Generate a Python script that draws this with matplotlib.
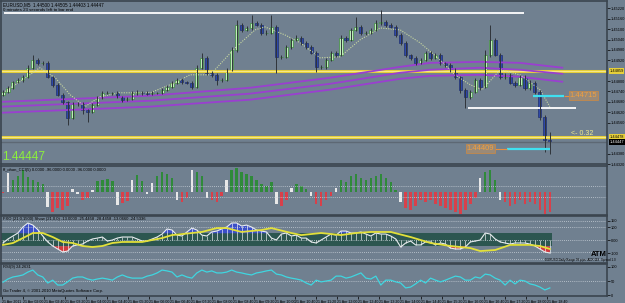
import numpy as np
import matplotlib
matplotlib.use("Agg")
import matplotlib.pyplot as plt

W, H = 625, 303
BG = "#708090"
EDGE = "#3a444e"

# ---- price data (EURUSD M5), one candle per entry ----
first_open = 1.44721
closes = [1.44738, 1.44761, 1.44796, 1.44807, 1.44825, 1.44877, 1.44923, 1.44905, 1.44905, 1.44825,
          1.44778, 1.44721, 1.44680, 1.44588, 1.44669, 1.44669, 1.44634, 1.44623, 1.44663, 1.44703,
          1.44732, 1.44732, 1.44732, 1.44709, 1.44692, 1.44698, 1.44732, 1.44738, 1.44732, 1.44727,
          1.44732, 1.44732, 1.44750, 1.44767, 1.44790, 1.44807, 1.44796, 1.44790, 1.44767, 1.44877,
          1.44934, 1.44848, 1.44836, 1.44807, 1.44807, 1.44865, 1.44980, 1.45125, 1.45096, 1.45107,
          1.45136, 1.45125, 1.45079, 1.45079, 1.45113, 1.44940, 1.44940, 1.44998, 1.45038, 1.45050,
          1.45021, 1.44998, 1.44963, 1.44882, 1.44882, 1.44923, 1.44963, 1.44952, 1.45050, 1.45038,
          1.45096, 1.45113, 1.45079, 1.45079, 1.45096, 1.45136, 1.45142, 1.45125, 1.45113, 1.45067,
          1.45021, 1.44952, 1.44934, 1.44905, 1.44923, 1.44963, 1.44934, 1.44952, 1.44905, 1.44894,
          1.44865, 1.44825, 1.44750, 1.44709, 1.44738, 1.44807, 1.44767, 1.44952, 1.45038, 1.44952,
          1.44825, 1.44836, 1.44790, 1.44778, 1.44825, 1.44761, 1.44790, 1.44738, 1.44594, 1.44461,
          1.44447]
# wick lengths in points (0.00001)
upper_wick = [8, 10, 6, 12, 9, 15, 29, 10, 12, 8, 6, 9, 10, 7, 12, 8, 10, 6, 9, 12,
              8, 10, 7, 9, 6, 12, 8, 10, 7, 9, 8, 6, 10, 9, 12, 8, 10, 7, 9, 15,
              29, 10, 8, 9, 12, 10, 15, 28, 12, 10, 46, 12, 10, 15, 69, 10, 9, 12, 10, 15,
              10, 8, 9, 10, 12, 8, 10, 9, 15, 12, 10, 60, 10, 9, 12, 15, 69, 12, 10, 9,
              8, 10, 7, 9, 12, 10, 8, 9, 10, 7, 9, 8, 6, 10, 12, 9, 10, 25, 87, 12,
              8, 10, 9, 12, 10, 8, 15, 10, 8, 9, 44]
lower_wick = [10, 8, 9, 7, 10, 8, 9, 12, 10, 8, 12, 10, 15, 40, 10, 12, 25, 58, 9, 10,
              8, 9, 12, 10, 15, 9, 8, 10, 12, 9, 10, 8, 9, 10, 7, 9, 12, 10, 15, 9,
              10, 12, 15, 29, 10, 9, 8, 10, 12, 9, 10, 8, 12, 10, 9, 92, 15, 9, 10, 8,
              12, 10, 9, 29, 12, 10, 9, 12, 8, 10, 9, 8, 12, 10, 9, 8, 10, 12, 9, 10,
              12, 15, 10, 12, 9, 10, 12, 9, 15, 10, 12, 15, 20, 63, 12, 10, 20, 9, 12, 10,
              15, 12, 10, 12, 9, 15, 10, 12, 20, 69, 67]

# horizontal levels
yellow_levels = [1.44859, 1.44478]
white_top = 1.45194
white_low = 1.44646
cyan_hi = 1.44715
cyan_lo = 1.44409
bid = 1.44447

# envelope (purple) sparse points
env_idx = [0, 29.6, 49.7, 65.8, 79.9, 85.9, 96.0, 104.0, 112.5]
env_up = [1.44680, 1.44715, 1.44761, 1.44819, 1.44882, 1.44905, 1.44911, 1.44905, 1.44877]
env_mid = [1.44652, 1.44686, 1.44727, 1.44784, 1.44848, 1.44865, 1.44877, 1.44865, 1.44842]
env_lo = [1.44617, 1.44652, 1.44692, 1.44750, 1.44813, 1.44830, 1.44836, 1.44825, 1.44796]

# dotted moving line
ma_idx = [0, 3.4, 7.4, 10.5, 13.5, 16.5, 19.5, 23.5, 29.6, 34.6, 37.6, 41.7, 46.7, 50.7, 52.7, 56.7,
          59.8, 63.8, 67.8, 71.8, 75.9, 79.9, 83.9, 87.9, 90.9, 94.0, 96.4, 100.0, 104.0, 108.0, 110.0]
ma_px = [1.44732, 1.44796, 1.44877, 1.44819, 1.44721, 1.44652, 1.44709, 1.44732, 1.44732, 1.44790,
         1.44836, 1.44836, 1.44992, 1.45096, 1.45113, 1.45067, 1.45021, 1.44934, 1.44940, 1.45038,
         1.45107, 1.45096, 1.45021, 1.44923, 1.44836, 1.44778, 1.44750, 1.44865, 1.44836, 1.44750,
         1.44652]

# ---- indicator 1: CCI histogram ----
cci = [-5, 95, 60, 80, 110, 75, 60, 50, 40, -75, -100, -80, -90, -70, 15, -10, -40, -30, 10, 55,
       60, 65, 55, -65, -55, -45, 60, 85, 55, -10, 45, 80, 100, 90, 70, -40, -50, -30, 110, 100,
       80, -30, -40, -50, -20, 60, 110, 120, 100, 90, 80, 60, 40, 30, 50, -60, -70, -40, 20, 40,
       30, 15, -20, -60, -70, -40, -20, 20, 60, 50, 80, 90, 70, 60, 70, 80, 90, 70, 50, 10,
       -50, -80, -90, -70, -40, -50, -40, -60, -70, -80, -90, -100, -110, -90, -60, -30, 70, 100, 110, 60,
       -40, -50, -70, -60, -40, -60, -50, -60, -90, -110, -100]

# ---- indicator 2: oscillator + signal ----
osc = [-23, 8, 31, 54, 100, 131, 115, 80, 31, -15, -46, -69, -92, -85, -46, -38, -31, -8, 8, 15,
       23, -8, 0, 15, 23, 23, 23, 8, -8, -8, 8, 23, 46, 85, 77, 38, 31, 62, 92, 77,
       38, 31, 62, 69, 85, 100, 131, 131, 108, 115, 100, 77, 69, 62, 15, 0, 46, 54, 31, 38,
       15, 15, -15, -23, 0, 23, 46, 38, 69, 69, 54, 54, 62, 46, 31, 54, 46, 46, 31, 8,
       -54, -23, -8, -38, -38, -15, -15, -38, -23, -31, -62, -69, -69, -54, -15, -8, 0, 54, 46, 8,
       -15, -23, -31, -23, -23, -23, -31, -46, -69, -92, -100]
sig_idx = [0, 2, 4, 6, 8, 10, 12, 14, 16, 18, 20, 22, 24, 28, 30, 32, 34, 36, 38, 40, 43, 45, 48,
           52, 54, 58, 60, 64, 68, 71, 74, 78, 82, 86, 90, 94, 96, 99, 102, 106, 108, 110]
sig_val = [-38, -23, 15, 54, 54, 23, -15, -23, -46, -54, -46, -23, -15, -15, 0, 15, 38, 46, 54, 62,
           92, 92, 62, 77, 92, 54, 38, 54, 38, 54, 62, 62, 23, -23, -46, -62, -85, -77, -38, -38,
           -46, -69]

# ---- indicator 3: RSI(9) ----
rsi = [46, 57, 64, 67, 71, 81, 88, 71, 64, 43, 53, 36, 36, 47, 60, 64, 64, 57, 53, 57,
       60, 57, 53, 64, 71, 64, 60, 60, 60, 67, 71, 78, 88, 85, 81, 64, 71, 64, 60, 78,
       88, 81, 85, 78, 78, 81, 88, 81, 78, 74, 71, 78, 81, 85, 88, 74, 71, 64, 60, 57,
       53, 43, 36, 53, 47, 50, 53, 67, 67, 60, 64, 71, 78, 60, 57, 67, 36, 53, 53, 47,
       43, 26, 29, 40, 53, 43, 60, 53, 47, 53, 60, 67, 64, 53, 53, 64, 60, 74, 71, 60,
       53, 36, 53, 40, 53, 50, 40, 36, 29, 19, 26]

time_labels = ["21 Apr 2011", "21 Apr 02:00", "21 Apr 02:40", "21 Apr 03:20", "21 Apr 04:00",
               "21 Apr 04:40", "21 Apr 05:20", "21 Apr 06:00", "21 Apr 06:40", "21 Apr 07:20",
               "21 Apr 08:00", "21 Apr 08:40", "21 Apr 09:20", "21 Apr 10:00", "21 Apr 10:40",
               "21 Apr 11:20", "21 Apr 12:00", "21 Apr 12:40", "21 Apr 13:20", "21 Apr 14:00",
               "21 Apr 14:40", "21 Apr 15:20", "21 Apr 16:00", "21 Apr 16:40", "21 Apr 17:20",
               "21 Apr 18:00", "21 Apr 18:40"]

plt.rcParams['font.family'] = ['Liberation Sans', 'DejaVu Sans']

fig = plt.figure(figsize=(W / 100, H / 100), dpi=100)
fig.patch.set_facecolor(BG)


def panel(y0, y1):
    a = fig.add_axes([1 / W, 1 - y1 / H, 606 / W, (y1 - y0) / H])
    a.set_facecolor(BG)
    for s in a.spines.values():
        s.set_color(EDGE)
        s.set_linewidth(1.2)
    a.set_xlim(-0.4, 121.5)
    a.yaxis.tick_right()
    a.tick_params(axis='y', labelsize=2.8, length=2, width=0.5, pad=1, colors='black')
    a.tick_params(axis='x', bottom=False, labelbottom=False)
    return a


def ftext(x, y, s, **kw):
    fig.text(x / W, 1 - y / H, s, **kw)


n = len(closes)
idx = np.arange(n)
c = np.array(closes)
o = np.r_[first_open, c[:-1]]
hi = np.maximum(o, c) + np.array(upper_wick) * 1e-5
lo = np.minimum(o, c) - np.array(lower_wick) * 1e-5
bull = c >= o

# ---- main price panel ----
ax = panel(1, 164)
ax.set_ylim(1.44323, 1.45263)
boxed = yellow_levels + [bid]
ticks = [t for t in np.arange(1.44320, 1.45260, 0.0006)
         if min(abs(t - b) for b in boxed) > 0.00028]
ax.set_yticks(ticks)
ax.set_yticklabels([f"{t:.5f}" for t in ticks])

ax.axhline(bid, color="#5d6874", lw=1)
ax.hlines(white_top, 0.2, 104.8, color="white", lw=1.3)
ax.hlines(white_low, 93.6, 115.3, color="white", lw=1.3)
for lvl in yellow_levels:
    ax.axhline(lvl, color="#e6cf3a", lw=2.2)
    ax.axhline(lvl, color="#f6ec9a", lw=0.6)

for ys in (env_up, env_mid, env_lo):
    ax.plot(env_idx, ys, color="#9a3fd0", lw=1.3)

ax.plot(ma_idx, ma_px, color="#c9d9a0", lw=0.8, ls=(0, (1, 1.2)))

ax.vlines(idx, lo, hi, color="#2f343a", lw=0.7)
body_b = np.minimum(o, c)
body_h = np.maximum(np.abs(c - o), 0.000015)
ax.bar(idx[bull], body_h[bull], bottom=body_b[bull], width=0.62,
       color="#bfeebb", edgecolor="#3d8a3d", lw=0.5)
ax.bar(idx[~bull], body_h[~bull], bottom=body_b[~bull], width=0.62,
       color="#2f49a8", edgecolor="#1f2f70", lw=0.5)

ax.hlines(cyan_hi, 106.7, 112.8, color="#3fe0f0", lw=1.6)
ax.hlines(cyan_hi, 112.8, 113.8, color="#e89040", lw=0.8)
ax.hlines(cyan_lo, 101.4, 110.0, color="#3fe0f0", lw=1.6)
ax.hlines(cyan_lo, 99.0, 101.4, color="#e89040", lw=0.8)

lbl = dict(fontsize=5.5, color="#f0a040", va="center",
           bbox=dict(boxstyle="square,pad=0.15", fc="#9a8a78", ec="#d08a40", lw=0.5))
ax.text(114.0, cyan_hi, "1.44715", ha="left", **lbl)
ax.text(98.8, cyan_lo, "1.44409", ha="right", **lbl)
ax.text(114.2, 1.44498, "<- 0.32", fontsize=5, color="#f2ec8a", va="center")

ybox = dict(fontsize=2.8, va="center", ha="left", transform=ax.get_yaxis_transform())
for lvl in yellow_levels:
    ax.text(1.004, lvl, f"{lvl:.5f}", color="black",
            bbox=dict(boxstyle="square,pad=0.2", fc="#e6cf3a", ec="none"), **ybox)
ax.text(1.004, bid, f"{bid:.5f}", color="white",
        bbox=dict(boxstyle="square,pad=0.2", fc="black", ec="none"), **ybox)

ftext(3, 5, "EURUSD,M5  1.44500 1.44505 1.44403 1.44447", fontsize=3.3, va="center")
ftext(3, 10, "0 minutes 23 seconds left to bar end", fontsize=3.2, va="center")
ftext(2, 157, "1.44447", fontsize=8.5, color="#8cf03c", va="center")

# ---- CCI histogram ----
ax2 = panel(166, 215)
ax2.set_ylim(-115, 130)
ax2.set_yticks([])
cv = np.array(cci)
sg = np.sign(cv)
flip = np.r_[False, sg[1:] != sg[:-1]]
cols = np.where(flip, "#e8e8e8", np.where(cv > 0, "#2f8a3a", "#d8404a"))
ax2.bar(idx, cv, width=0.5, color=cols, lw=0)
for lv in (30, -25):
    ax2.axhline(lv, color="#c8d0d8", lw=0.6, ls=(0, (1, 1.5)))
ftext(3, 170, "ff_ohon_CCI(5) 0.0000 -96.0000 0.0000 -96.0000 0.0000", fontsize=3, va="center")

# ---- oscillator panel ----
ax3 = panel(216, 263)
ax3.set_ylim(-177, 185)
ax3.set_yticks([150, 100, 0, -100])
ax3.set_yticklabels(["150", "100", "0.00", "-100"])
for lv in (150, 100, 0, -92, -150):
    ax3.axhline(lv, color="#c8d0d8", lw=0.6, ls=(0, (1, 1.5)))
ax3.add_patch(plt.Rectangle((-0.4, -48), 110.8, 100, color="#2c5650", lw=0))
ov = np.array(osc, dtype=float)
ax3.fill_between(idx, ov, 52, where=ov > 52, color="#3b4fc8", interpolate=True, lw=0)
ax3.fill_between(idx, ov, -48, where=ov < -48, color="#d03a40", interpolate=True, lw=0)
ax3.vlines(idx, 0, ov, color="white", lw=0.5, alpha=0.85)
ax3.plot(idx, ov, color="#e8ecef", lw=0.8)
ax3.plot(sig_idx, sig_val, color="#e2e03a", lw=1.3)
ftext(3, 219, "FXO (21,0,1500) Show (21,0,0) -13.0000 -25.4458 -28.4458 -13.0660 -24.5336",
      fontsize=3, va="center")
ftext(591, 255, "ATM", fontsize=5.5, fontweight="bold", va="center")
ftext(545, 260, "EURUSD Daily Range 99 pips  ADR 118  Spread 1.0", fontsize=2.2, va="center")

# ---- RSI panel ----
ax4 = panel(264, 296)
ax4.set_ylim(-2, 109)
ax4.set_yticks([100, 50, 0])
ax4.axhline(50, color="#c8d0d8", lw=0.6, ls=(0, (1, 1.5)))
ax4.plot(idx, rsi, color="#3fd6e0", lw=0.9)
ftext(3, 267, "RSI(9) 24.2631", fontsize=3, va="center")
ftext(3, 291, "Go Trader 4, \u00a9 2001-2010 MetaQuotes Software Corp.", fontsize=3, va="center")

# time axis
tpos = [4.217 * k - 0.2 for k in range(len(time_labels))]
ax4.set_xticks(tpos)
ax4.set_xticklabels(time_labels, ha="left")
ax4.tick_params(axis='x', bottom=True, labelbottom=True, labelsize=2.6, length=2, width=0.5,
                pad=1, colors='black')

fig.savefig("out.png", dpi=100, facecolor=BG)
